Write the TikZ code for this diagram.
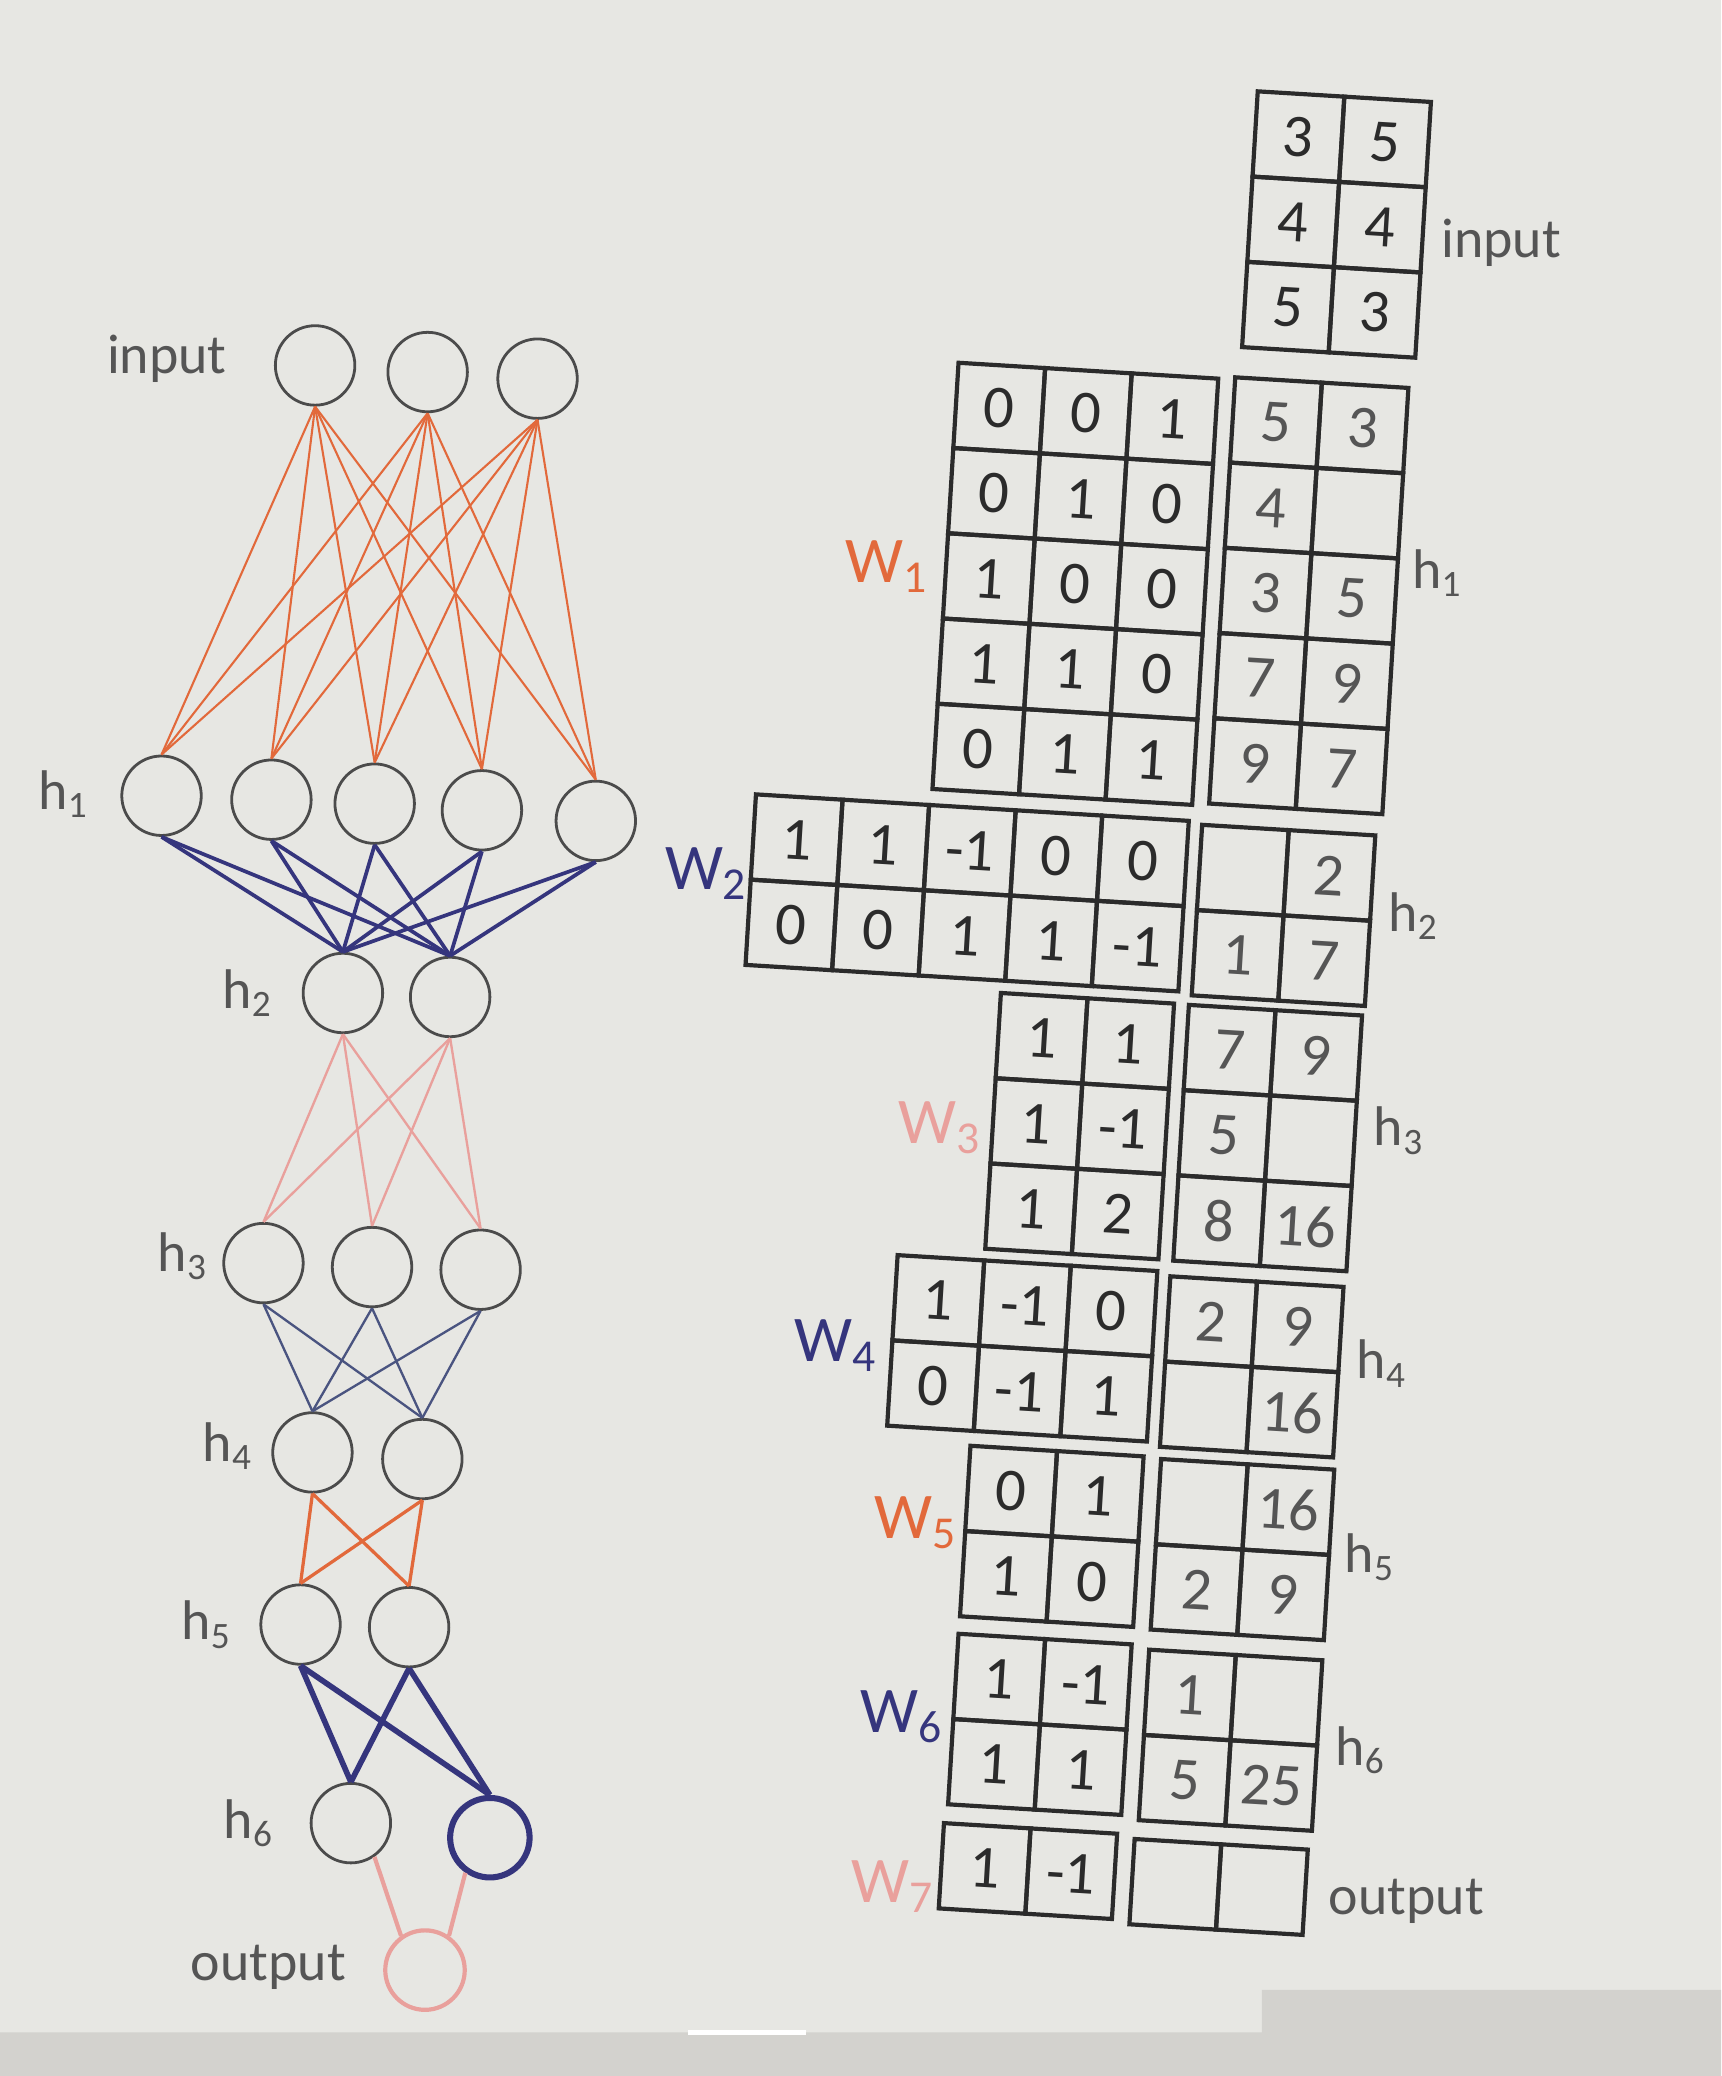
\documentclass[tikz,border=0pt]{standalone}
\usepackage{fontspec}
\setmainfont{Carlito}
\usetikzlibrary{positioning}

\definecolor{paper}{HTML}{E7E7E3}
\definecolor{band}{HTML}{D3D2CE}
\definecolor{ink}{HTML}{2B2B2B}
\definecolor{pencil}{HTML}{555555}
\definecolor{burnt}{HTML}{E2693B}
\definecolor{navy}{HTML}{35357D}
\definecolor{salmon}{HTML}{E9A09C}
\definecolor{slate}{HTML}{4A5480}

\begin{document}
\begin{tikzpicture}[
  x=0.01cm, y=-0.01cm,
  neuron/.style={circle, draw=ink!85, line width=0.6pt, minimum size=0.6cm, inner sep=0pt},
  pen/.style={text=pencil, inner sep=0pt, font=\fontsize{12}{12}\selectfont},
  wname/.style={inner sep=0pt, anchor=east, font=\fontsize{14}{14}\selectfont},
  wcell/.style={draw=ink, line width=0.9pt, minimum width=0.655cm, minimum height=0.645cm, inner sep=0pt, text=ink, font=\fontsize{13}{13}\selectfont},
  hcell/.style={wcell, text=pencil},
  wire/.style={line width=0.45pt}
]

\def\cw{65.5}
\def\ch{64.5}
\def\grid#1#2#3#4{%
  \begin{scope}[shift={#2}, rotate=-3.5, transform shape]
    \foreach \row [count=\r from 0] in {#4}
      \foreach \v [count=\c from 0] in \row
        \node[#3] (#1-\r-\c) at (\c*\cw+\cw/2, \r*\ch+\ch/2) {\v};
  \end{scope}}

% Paper
\useasboundingbox (0,0) rectangle (1300,1568);
\fill[paper] (0,0) rectangle (1300,1568);
\fill[band] (953,1503) -- (1300,1503) -- (1300,1568) -- (0,1568) -- (0,1535) -- (953,1535) -- cycle;
\draw[white, line width=1.2pt] (520,1535) -- (609,1535);

% Network
\node[neuron] (in1) at (238,276) {};
\node[neuron] (in2) at (323,281) {};
\node[neuron] (in3) at (406,286) {};
\node[neuron] (h1a) at (122,601) {};
\node[neuron] (h1b) at (205,604) {};
\node[neuron] (h1c) at (283,607) {};
\node[neuron] (h1d) at (364,612) {};
\node[neuron] (h1e) at (450,620) {};
\node[neuron] (h2a) at (259,750) {};
\node[neuron] (h2b) at (340,753) {};
\node[neuron] (h3a) at (199,954) {};
\node[neuron] (h3b) at (281,957) {};
\node[neuron] (h3c) at (363,959) {};
\node[neuron] (h4a) at (236,1097) {};
\node[neuron] (h4b) at (319,1102) {};
\node[neuron] (h5a) at (227,1227) {};
\node[neuron] (h5b) at (309,1229) {};
\node[neuron] (h6a) at (265,1377) {};
\node[neuron, draw=navy, line width=1.3pt] (h6b) at (370,1388) {};
\node[neuron, draw=salmon, line width=0.9pt] (outn) at (321,1488) {};

\node[pen, anchor=east] (lin) at (172,271) {input};
\node[pen, anchor=east] (lh1) at (68,600) {h\textsubscript{1}};
\node[pen, anchor=east] (lh2) at (207,750) {h\textsubscript{2}};
\node[pen, anchor=east] (lh3) at (158,949) {h\textsubscript{3}};
\node[pen, anchor=east] (lh4) at (192,1092) {h\textsubscript{4}};
\node[pen, anchor=east] (lh5) at (176,1227) {h\textsubscript{5}};
\node[pen, anchor=east] (lh6) at (208,1377) {h\textsubscript{6}};
\node[pen, anchor=east] (lout) at (262,1486) {output};

% Connections
\foreach \a in {in1,in2,in3}
  \foreach \b in {h1a,h1b,h1c,h1d,h1e}
    \draw[wire, burnt] (\a.south) -- (\b.north);
\foreach \a in {h1a,h1b,h1c,h1d,h1e}
  \foreach \b in {h2a,h2b}
    \draw[wire, navy, line width=0.8pt] (\a.south) -- (\b.north);
\foreach \a in {h2a,h2b}
  \foreach \b in {h3a,h3b,h3c}
    \draw[wire, salmon, line width=0.5pt] (\a.south) -- (\b.north);
\foreach \a in {h3a,h3b,h3c}
  \foreach \b in {h4a,h4b}
    \draw[wire, slate, line width=0.5pt] (\a.south) -- (\b.north);
\foreach \a in {h4a,h4b}
  \foreach \b in {h5a,h5b}
    \draw[wire, burnt, line width=0.7pt] (\a.south) -- (\b.north);
\foreach \a in {h5a,h5b}
  \foreach \b in {h6a,h6b}
    \draw[wire, navy, line width=1.2pt] (\a.south) -- (\b.north);
\draw[wire, salmon, line width=0.9pt] (h6a.-55) -- (outn.125);
\draw[wire, salmon, line width=0.9pt] (h6b.-125) -- (outn.55);

% Matrices
\grid{inp}{(950,69)}{wcell}{{3,5},{4,4},{5,3}}
\grid{w1}{(724,274)}{wcell}{{0,0,1},{0,1,0},{1,0,0},{1,1,0},{0,1,1}}
\grid{h1}{(933,285)}{hcell}{{5,3},{4,{}},{3,5},{7,9},{9,7}}
\grid{w2}{(571,600)}{wcell}{{1,1,-1,0,0},{0,0,1,1,-1}}
\grid{h2}{(908,623)}{hcell}{{{},2},{1,7}}
\grid{w3}{(756,750)}{wcell}{{1,1},{1,-1},{1,2}}
\grid{h3}{(898,759)}{hcell}{{7,9},{5,{}},{8,16}}
\grid{w4}{(678,948)}{wcell}{{1,-1,0},{0,-1,1}}
\grid{h4}{(884,964)}{hcell}{{2,9},{{},16}}
\grid{w5}{(733,1092)}{wcell}{{0,1},{1,0}}
\grid{h5}{(877,1102)}{hcell}{{{},16},{2,9}}
\grid{w6}{(724,1234)}{wcell}{{1,-1},{1,1}}
\grid{h6}{(868,1246)}{hcell}{{1,{}},{5,25}}
\grid{w7}{(713,1377)}{wcell}{{1,-1}}
\grid{out}{(857,1389)}{hcell}{{{},{}}}

% Matrix labels
\node[pen, anchor=west] (tin) at (1088,183) {input};
\node[pen, anchor=west] (th1) at (1066,433) {h\textsubscript{1}};
\node[pen, anchor=west] (th2) at (1048,692) {h\textsubscript{2}};
\node[pen, anchor=west] (th3) at (1037,854) {h\textsubscript{3}};
\node[pen, anchor=west] (th4) at (1024,1030) {h\textsubscript{4}};
\node[pen, anchor=west] (th5) at (1015,1176) {h\textsubscript{5}};
\node[pen, anchor=west] (th6) at (1008,1322) {h\textsubscript{6}};
\node[pen, anchor=west] (tout) at (1003,1436) {output};
\node[wname, text=burnt] (tw1) at (702,428) {W\textsubscript{1}};
\node[wname, text=navy] (tw2) at (566,660) {W\textsubscript{2}};
\node[wname, text=salmon] (tw3) at (742,852) {W\textsubscript{3}};
\node[wname, text=navy] (tw4) at (664,1016) {W\textsubscript{4}};
\node[wname, text=burnt] (tw5) at (724,1150) {W\textsubscript{5}};
\node[wname, text=navy] (tw6) at (714,1297) {W\textsubscript{6}};
\node[wname, text=salmon] (tw7) at (707,1425) {W\textsubscript{7}};

\end{tikzpicture}
\end{document}
